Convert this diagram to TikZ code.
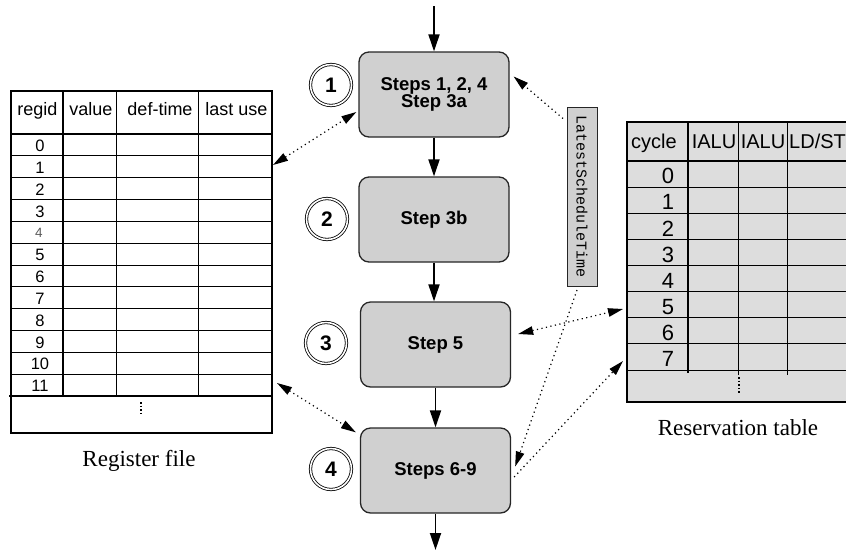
\documentclass[tikz,border=0pt]{standalone}
\usepackage{fontspec}
\setmainfont{Liberation Serif}
\setsansfont{Liberation Sans}
\setmonofont{Liberation Mono}
\usetikzlibrary{arrows.meta,calc}

\definecolor{boxgray}{RGB}{208,208,208}
\definecolor{tablegray}{RGB}{221,221,221}

\begin{document}
\begin{tikzpicture}[x=1pt,y=-1pt,
  stepbox/.style={draw=black!85, line width=1.3pt, fill=boxgray, rounded corners=10pt,
    minimum width=150pt, minimum height=85pt, align=center, inner sep=0pt,
    font=\sffamily\bfseries\fontsize{18.5}{17}\selectfont},
  numcircle/.style={circle, draw, double, double distance=1.6pt, line width=0.8pt,
    minimum size=41pt, inner sep=0pt, font=\sffamily\bfseries\fontsize{21}{21}\selectfont},
  flow/.style={-{Triangle[length=17pt,width=11pt]}, line width=1.8pt},
  dotlink/.style={line width=1.2pt, dash pattern=on 1.2pt off 3.4pt},
  bothway/.style={dotlink, {Triangle[length=15pt,width=8.5pt]}-{Triangle[length=15pt,width=8.5pt]}},
  oneway/.style={dotlink, -{Triangle[length=15pt,width=8.5pt]}},
  hdr/.style={font=\sffamily\fontsize{18}{18}\selectfont, anchor=base, inner sep=0pt},
  rthdr/.style={font=\sffamily\fontsize{20}{20}\selectfont, anchor=base, inner sep=0pt},
  rfnum/.style={font=\sffamily\fontsize{16.5}{16.5}\selectfont, inner sep=0pt},
  rtnum/.style={font=\sffamily\fontsize{22}{22}\selectfont, inner sep=0pt},
  caption/.style={font=\rmfamily\fontsize{23}{23}\selectfont, anchor=base, inner sep=0pt},
  thinrule/.style={line width=1pt},
  thickrule/.style={line width=2.2pt}
]
\useasboundingbox (0,0) rectangle (846,550);
\clip (0,0) rectangle (846,550);

% ---------------- register file ----------------
\foreach \k in {1,...,11}
  \draw[thinrule] (11,{134+\k*21.833}) -- (272,{134+\k*21.833});
\draw[line width=1.4pt] (9,396) -- (272,396);
\draw[line width=1.6pt] (11,134) -- (272,134);
\draw[thickrule] (63,91) -- (63,396);
\draw[thinrule] (116,91) -- (116,396);
\draw[thinrule] (198,91) -- (198,396);
\draw[thickrule] (11,91) rectangle (272,433);

\node[hdr] at (37.5,115) {regid};
\node[hdr] at (91,115) {value};
\node[hdr] at (160,115) {def-time};
\node[hdr] at (236.5,115) {last use};

\foreach \k in {0,1,2,3,5,6,7,8,9,10,11}
  \node[rfnum] at (40,{134+(\k+0.5)*21.833+1}) {\k};
\node[rfnum, text=black!65, font=\sffamily\fontsize{13.5}{13.5}\selectfont]
  at (39,{134+4.5*21.833+1}) {4};
\draw[line width=1.6pt, dash pattern=on 1.6pt off 2pt] (141,402) -- (141,416);

\node[caption] at (139,466) {Register file};

% ---------------- reservation table ----------------
\fill[tablegray] (627,122) rectangle (900,402);
\foreach \k in {1,...,7}
  \draw[thinrule] (627,{161+\k*26.125}) -- (900,{161+\k*26.125});
\draw[line width=1.6pt] (627,161) -- (900,161);
\draw[thinrule] (627,370) -- (900,370);
\draw[thickrule] (688,122) -- (688,373);
\draw[thinrule] (738,122) -- (738,375);
\draw[thinrule] (787,122) -- (787,375);
\draw[line width=2.5pt] (627,122) rectangle (900,402);

\node[rthdr] at (654,148) {cycle};
\node[rthdr] at (714,148) {IALU};
\node[rthdr] at (763,148) {IALU};
\node[rthdr, anchor=base west] at (789,148) {LD/ST};

\foreach \k in {0,...,7}
  \node[rtnum] at (668,{161+(\k+0.5)*26.125+2}) {\k};
\draw[line width=1.6pt, dash pattern=on 1.6pt off 2pt] (739,377) -- (739,393);

\node[caption] at (738,435) {Reservation table};

% ---------------- scheduling steps ----------------
\node[stepbox] (s1) at (434,94.5) {Steps 1, 2, 4\\Step 3a};
\node[stepbox] (s2) at (434,219.5) {Step 3b};
\node[stepbox] (s3) at (435.5,344.5) {Step 5};
\node[stepbox] (s4) at (435.5,470.5) {Steps 6-9};

\node[numcircle] (c1) at (331,85) {1};
\node[numcircle] (c2) at (327,219) {2};
\node[numcircle] (c3) at (326,343) {3};
\node[numcircle] (c4) at (331,469) {4};

\node[draw=black!85, line width=0.8pt, fill=boxgray, rotate=-90,
      minimum width=179pt, minimum height=30pt, inner sep=0pt,
      font=\ttfamily\fontsize{15}{15}\selectfont] (lst) at (582,196.5) {LatestScheduleTime};

\coordinate (in) at (434,6);
\coordinate (out) at (435.5,550);

\draw[flow] (in) -- (s1);
\draw[flow] (s1) -- (s2);
\draw[flow] (s2.south) -- (s3.north -| s2.south);
\draw[flow] (s3) -- (s4);
\draw[flow] (s4) -- (out);

% ---------------- table accesses ----------------
\coordinate (rf-top) at (273,165);
\coordinate (rf-bot) at (277,383);
\coordinate (rt-top) at (623,309);
\coordinate (rt-bot) at (623,361);

\draw[bothway] (rf-top) -- ([xshift=-2pt,yshift=-17.5pt]s1.west);
\draw[bothway] (rf-bot) -- ([xshift=-4pt,yshift=-5pt]s4.north west);
\draw[bothway] ([xshift=7pt,yshift=10.5pt]s3.east) -- (rt-top);
\draw[oneway] ([xshift=3pt,yshift=-6.5pt]s4.east) -- (rt-bot);
\draw[oneway] ($(lst.center)+(-19,-78)$) -- ([xshift=4pt,yshift=18pt]s1.east);
\draw[oneway] ($(lst.center)+(-5,93.5)$) -- ([xshift=4pt,yshift=4pt]s4.east);
\end{tikzpicture}
\end{document}
